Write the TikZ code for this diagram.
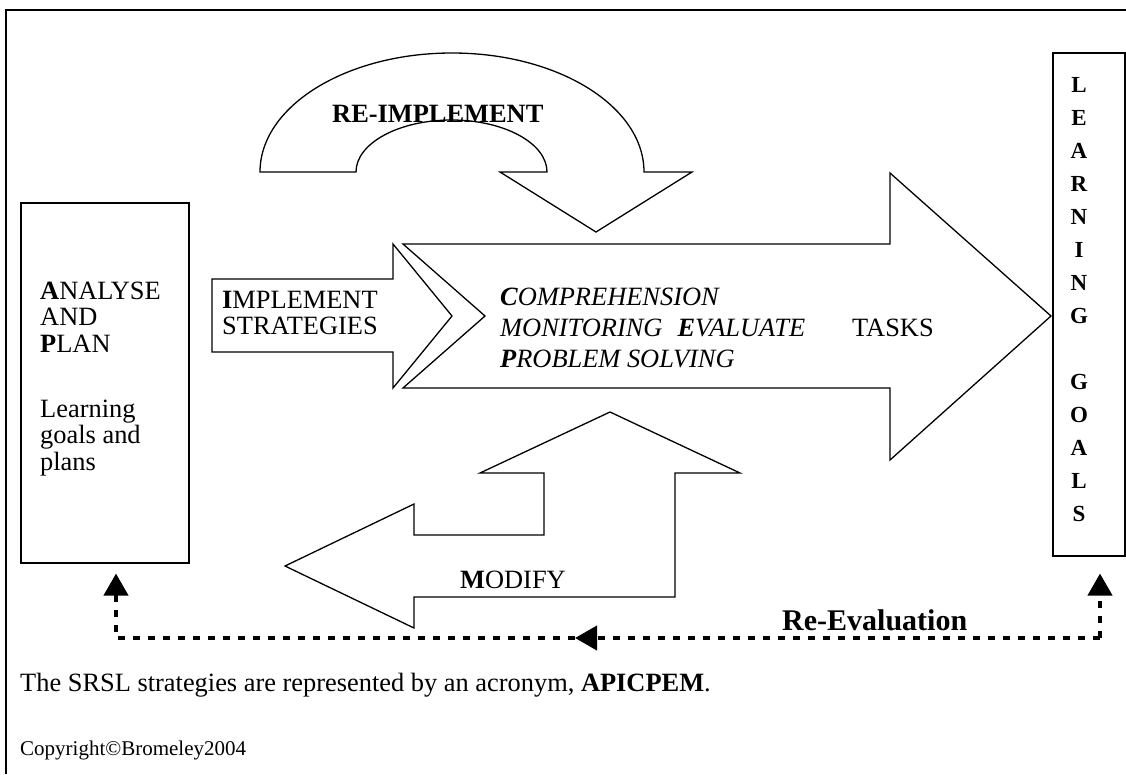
\documentclass[tikz,border=0pt]{standalone}
\usepackage{fontspec}
\setmainfont{Liberation Serif}
\usepackage{tikz}
\newcommand{\lAnalyse}{\textbf{A}NALYSE\\AND\\\textbf{P}LAN}
\newcommand{\lAnalyseNote}{Learning\\goals and\\plans}
\newcommand{\lImplement}{\textbf{I}MPLEMENT\\STRATEGIES}
\newcommand{\lStrategies}{\textbf{C}OMPREHENSION\\MONITORING\hspace{15pt}\textbf{E}VALUATE\\\textbf{P}ROBLEM SOLVING}
\newcommand{\lTasks}{TASKS}
\newcommand{\lReImplement}{RE-IMPLEMENT}
\newcommand{\lModify}{\textbf{M}ODIFY}
\newcommand{\lGoals}{L\\E\\A\\R\\N\\I\\N\\G\\~\\G\\O\\A\\L\\S}
\newcommand{\lReEvaluation}{Re-Evaluation}
\newcommand{\lAcronym}{The SRSL strategies are represented by an acronym, \textbf{APICPEM}.}
\newcommand{\lCopyright}{Copyright©Bromeley2004}
\usetikzlibrary{arrows.meta}

\begin{document}
\begin{tikzpicture} [
        x=1pt, y=-1pt,
        frame/.style={line width=1.7pt},
        box/.style={draw, line width=1.5pt, inner sep=0pt, anchor=north west},
        block arrow/.style={draw, line width=1.3pt, line join=miter, fill=white},
        eval line/.style={line width=4pt, dash pattern=on 7pt off 8pt},
        eval tip/.style={-{Triangle[width=24pt, length=22pt]}},
        label main/.style={anchor=base west, inner sep=0pt, align=left, font=\fontsize{26.4}{26.7}\selectfont},
        label italic/.style={label main, font=\fontsize{26.4}{31}\selectfont\itshape},
        label goals/.style={anchor=base, inner sep=0pt, align=center, font=\fontsize{23}{33}\selectfont\bfseries},
        label eval/.style={label main, font=\fontsize{30}{32}\selectfont\bfseries},
        label small/.style={label main, font=\fontsize{21}{24}\selectfont}
    ]

    \useasboundingbox (0,0) rectangle (1126,774);
    \draw[frame] (6,774) -- (6,10) -- (1126,10);

    % boxes at both ends
    \path (20,202) node[box, minimum width=168pt, minimum height=360pt] (plan) {};
    \path (1052,52) node[box, minimum width=72pt, minimum height=503pt] (goals) {};

    % block arrows
    \draw[block arrow] (260,172) arc[start angle=180, end angle=0, x radius=192pt, y radius=119pt]
        -- (692,172) -- (596,232) -- (500,172) -- (547,172)
        arc[start angle=0, end angle=180, x radius=95.5pt, y radius=52pt] -- cycle;
    \draw[block arrow] (212,279) -- (393,279) -- (393,244) -- (452,316) -- (393,388) -- (393,352) -- (212,352) -- cycle;
    \draw[block arrow] (403,244) -- (890,244) -- (890,173) -- (1051,316) -- (890,460) -- (890,388) -- (403,388) -- (485,316) -- cycle;
    \draw[block arrow] (285,566) -- (414,504) -- (414,535) -- (544,535) -- (544,473) -- (480,473) -- (610,412)
        -- (740,473) -- (675,473) -- (675,597) -- (414,597) -- (414,628) -- cycle;

    % texts (base = last line)
    \path (40,352.4) node[label main] (analyse) {\lAnalyse};
    \path (40,470.4) node[label main] (analyse note) {\lAnalyseNote};
    \path (222,334.7) node[label main] (implement) {\lImplement};
    \path (500,367) node[label italic] (strategies) {\lStrategies};
    \path (852,336) node[label main] (tasks) {\lTasks};
    \path (332,122) node[label main, font=\fontsize{26.4}{26.7}\selectfont\bfseries] (re implement) {\lReImplement};
    \path (460,588) node[label main] (modify) {\lModify};
    \path (1079,521) node[label goals] (goals text) {\lGoals};
    \path (782,630) node[label eval] (re evaluation) {\lReEvaluation};
    \path (20,691) node[label main] (acronym) {\lAcronym};
    \path (20,755) node[label small] (copyright) {\lCopyright};

    % re-evaluation loop
    \coordinate (eval corner) at (1100,638);
    \coordinate (eval mid) at (575,638);
    \coordinate (plan corner) at (116,638);
    \draw[eval line, eval tip, shorten >=17pt] (eval corner) -- (eval corner |- goals.south);
    \draw[eval line, eval tip] (eval corner) -- (eval mid);
    \draw[eval line, eval tip, shorten >=10pt] (eval mid) -- (plan corner) -- (plan corner |- plan.south);

\end{tikzpicture}
\end{document}
